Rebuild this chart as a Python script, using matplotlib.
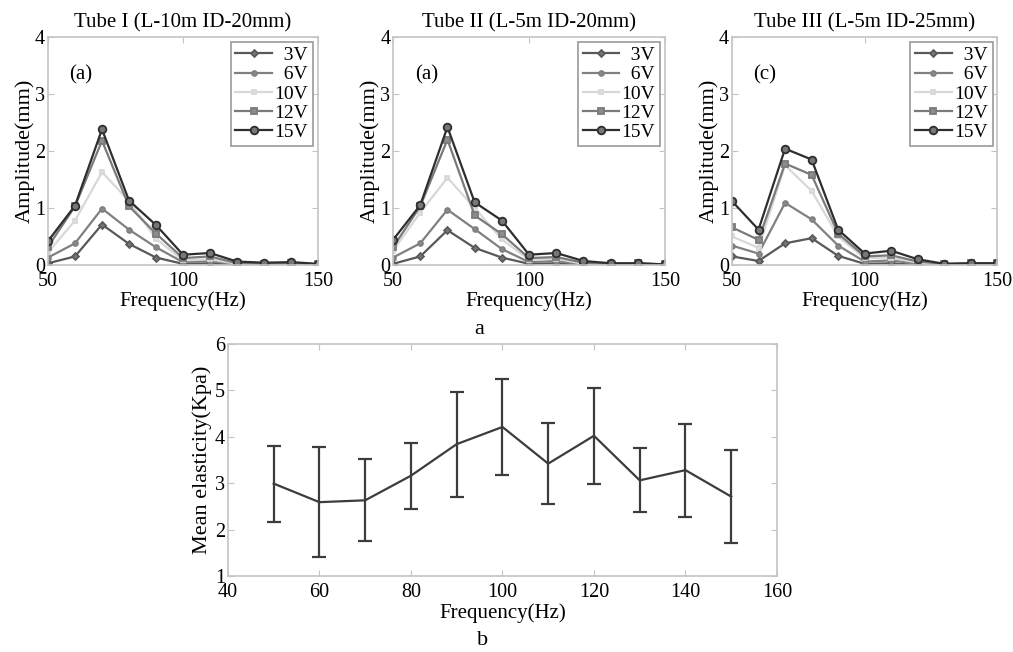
import numpy as np
import matplotlib
matplotlib.use("Agg")
import matplotlib.pyplot as plt

plt.rcParams["font.family"] = ["Liberation Serif", "DejaVu Serif"]
plt.rcParams["mathtext.fontset"] = "stix"

# ── data ─────────────────────────────────────────────────────────────────────
freq = [50, 60, 70, 80, 90, 100, 110, 120, 130, 140, 150]
voltages = ["3V", "6V", "10V", "12V", "15V"]

tube1_3v  = [0.03, 0.15, 0.71, 0.37, 0.13, 0.02, 0.03, 0.00, 0.00, 0.00, 0.00]
tube1_6v  = [0.13, 0.38, 0.99, 0.62, 0.31, 0.05, 0.07, 0.01, 0.00, 0.01, 0.00]
tube1_10v = [0.22, 0.78, 1.63, 1.12, 0.46, 0.08, 0.10, 0.02, 0.01, 0.02, 0.00]
tube1_12v = [0.32, 1.03, 2.18, 1.03, 0.55, 0.12, 0.15, 0.03, 0.02, 0.03, 0.01]
tube1_15v = [0.42, 1.04, 2.38, 1.13, 0.70, 0.18, 0.21, 0.06, 0.04, 0.05, 0.02]

tube2_3v  = [0.02, 0.15, 0.61, 0.30, 0.13, 0.02, 0.03, 0.00, 0.00, 0.00, 0.00]
tube2_6v  = [0.13, 0.38, 0.97, 0.63, 0.28, 0.05, 0.07, 0.01, 0.00, 0.01, 0.00]
tube2_10v = [0.25, 0.92, 1.53, 1.00, 0.45, 0.09, 0.11, 0.02, 0.01, 0.02, 0.01]
tube2_12v = [0.31, 1.03, 2.20, 0.87, 0.54, 0.12, 0.14, 0.04, 0.02, 0.03, 0.01]
tube2_15v = [0.44, 1.05, 2.42, 1.10, 0.78, 0.18, 0.21, 0.07, 0.03, 0.03, 0.01]

tube3_3v  = [0.15, 0.07, 0.38, 0.47, 0.16, 0.02, 0.03, 0.00, 0.00, 0.00, 0.00]
tube3_6v  = [0.34, 0.20, 1.09, 0.80, 0.34, 0.06, 0.08, 0.02, 0.00, 0.01, 0.01]
tube3_10v = [0.50, 0.30, 1.75, 1.30, 0.50, 0.12, 0.13, 0.04, 0.01, 0.02, 0.02]
tube3_12v = [0.66, 0.44, 1.78, 1.58, 0.55, 0.15, 0.17, 0.06, 0.02, 0.03, 0.03]
tube3_15v = [1.12, 0.62, 2.04, 1.85, 0.62, 0.20, 0.25, 0.10, 0.02, 0.03, 0.03]

titles = ["Tube I (L-10m ID-20mm)", "Tube II (L-5m ID-20mm)", "Tube III (L-5m ID-25mm)"]
tags = ["(a)", "(a)", "(c)"]

elast_freq = [50, 60, 70, 80, 90, 100, 110, 120, 130, 140, 150]
elast_mean = [2.99, 2.59, 2.63, 3.16, 3.84, 4.21, 3.42, 4.02, 3.06, 3.28, 2.71]
elast_err  = [0.82, 1.19, 0.88, 0.71, 1.13, 1.04, 0.88, 1.04, 0.69, 1.00, 1.00]

# ── styles ───────────────────────────────────────────────────────────────────
colors  = ["#595959", "#808080", "#d8d8d8", "#7a7a7a", "#2e2e2e"]
markers = ["D", "o", "s", "s", "o"]
msizes  = [3.5, 3.5, 3, 4.5, 5.5]
mfc     = ["#777777", "#8a8a8a", "#e0e0e0", "#8c8c8c", "#777777"]
spine_c = "#c4c4c4"


def style_axes(ax):
    for s in ax.spines.values():
        s.set_color(spine_c)
        s.set_linewidth(1.2)
    ax.tick_params(direction="in", length=4, color=spine_c, top=True, right=True,
                   labelsize=14.5)
    ax.tick_params(axis="x", pad=5)
    ax.tick_params(axis="y", pad=2)


fig = plt.figure(figsize=(10.13, 6.52), dpi=100)

tubes = [
    [tube1_3v, tube1_6v, tube1_10v, tube1_12v, tube1_15v],
    [tube2_3v, tube2_6v, tube2_10v, tube2_12v, tube2_15v],
    [tube3_3v, tube3_6v, tube3_10v, tube3_12v, tube3_15v],
]
lefts = [0.0474, 0.388, 0.7226]
widths = [0.2665, 0.2685, 0.262]

for i, series in enumerate(tubes):
    ax = fig.add_axes([lefts[i], 0.5936, widths[i], 0.3497])
    for j, vals in enumerate(series):
        ax.plot(freq, vals, color=colors[j], lw=1.6, marker=markers[j], ms=msizes[j],
                mfc=mfc[j], mec=colors[j], mew=1.3, label=voltages[j])
    ax.set_xlim(50, 150)
    ax.set_ylim(0, 4)
    ax.set_xticks([50, 100, 150])
    ax.set_yticks([0, 1, 2, 3, 4])
    style_axes(ax)
    ax.set_xlabel("Frequency(Hz)", fontsize=15, labelpad=0)
    ax.set_ylabel("Amplitude(mm)", fontsize=16, labelpad=0)
    ax.set_title(titles[i], fontsize=15, pad=7)
    ax.text(0.08, 0.833, tags[i], transform=ax.transAxes, fontsize=15, va="center")
    leg = ax.legend(["\u2007" + v if len(v) == 2 else v for v in voltages],
                    loc="upper right", fontsize=14, handlelength=1.9,
                    handletextpad=0.1, borderpad=0.25, labelspacing=0.08,
                    borderaxespad=0.25, fancybox=False, framealpha=1)
    leg.get_frame().set_edgecolor("#999999")
    leg.get_frame().set_linewidth(1.2)

fig.text(0.473, 0.494, "a", ha="center", va="center", fontsize=16)

# ── bottom panel: mean elasticity ────────────────────────────────────────────
ax = fig.add_axes([0.225, 0.1166, 0.542, 0.356])
ax.errorbar(elast_freq, elast_mean, yerr=elast_err, color="#3c3c3c", lw=1.6,
            elinewidth=1.6, capsize=5, capthick=1.6)
ax.set_xlim(40, 160)
ax.set_ylim(1, 6)
ax.set_xticks([40, 60, 80, 100, 120, 140, 160])
ax.set_yticks([1, 2, 3, 4, 5, 6])
style_axes(ax)
ax.set_xlabel("Frequency(Hz)", fontsize=15, labelpad=1)
ax.set_ylabel("Mean elasticity(Kpa)", fontsize=16, labelpad=2)

fig.text(0.476, 0.017, "b", ha="center", va="center", fontsize=16)

plt.savefig("out.png", dpi=100)
plt.close()
